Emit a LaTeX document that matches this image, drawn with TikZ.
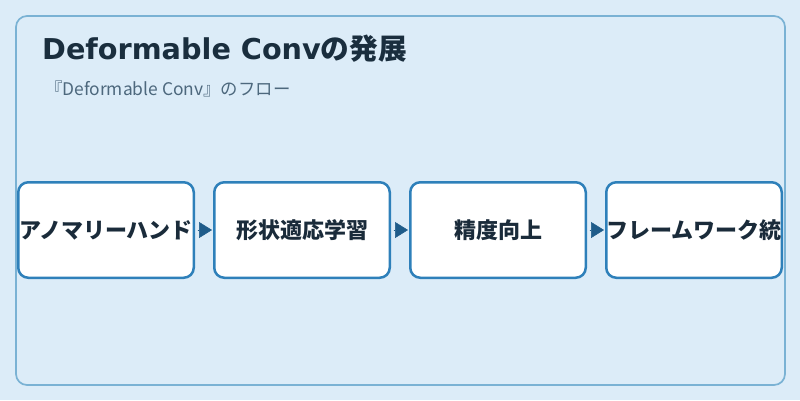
\documentclass[tikz,border=0pt]{standalone}
\usepackage{fontspec}
\setmainfont{Noto Sans CJK JP}
\newfontfamily\titlelatin{DejaVu Sans}
\newfontfamily\cjkfont{Noto Sans CJK JP}
\usetikzlibrary{arrows.meta}
\definecolor{bgc}{HTML}{DCECF8}
\definecolor{framec}{HTML}{7AB2D4}
\definecolor{boxc}{HTML}{2E80BA}
\definecolor{arrc}{HTML}{1F5C8A}
\definecolor{titlec}{HTML}{1A2E3E}
\definecolor{subc}{HTML}{4D687D}
\definecolor{textc}{HTML}{1A2B3A}
\tikzset{
  stepbox/.style={draw=boxc, line width=2.5pt, fill=white, rounded corners=10pt,
    minimum width=175.5pt, minimum height=95.5pt, inner sep=0pt,
    font=\fontsize{22}{24}\selectfont\bfseries, text=textc},
  flowarrow/.style={draw=arrc, line width=0.5pt, shorten <=2.5pt, shorten >=1pt,
    -{Triangle[length=13pt,width=16pt]}, fill=arrc}
}
\begin{document}
\begin{tikzpicture}[x=1pt,y=-1pt]
\fill[bgc] (0,0) rectangle (800,400);
\useasboundingbox (0,0) rectangle (800,400);
\draw[framec, line width=1.7pt, rounded corners=11pt] (16,16) rectangle (785,385);
\node[anchor=base west, inner sep=0pt, text=titlec] (title) at (42,59)
  {\fontsize{28.7}{32}\selectfont\titlelatin\bfseries Deformable Conv\cjkfont\bfseries の発展};
\node[anchor=base west, inner sep=0pt, text=subc] (sub) at (45,95.5)
  {\fontsize{17.4}{21}\selectfont 『Deformable Conv』のフロー};
\node[stepbox] (b1) at (106,230) {\raisebox{-1pt}{アノマリーハンド}};
\node[stepbox] (b2) at (302,230) {\raisebox{-1pt}{形状適応学習}};
\node[stepbox] (b3) at (498,230) {\raisebox{-1pt}{精度向上}};
\node[stepbox] (b4) at (694,230) {\raisebox{-1pt}{フレームワーク統}};
\draw[flowarrow] (b1.east) -- (b2.west);
\draw[flowarrow] (b2.east) -- (b3.west);
\draw[flowarrow] (b3.east) -- (b4.west);
\end{tikzpicture}
\end{document}
